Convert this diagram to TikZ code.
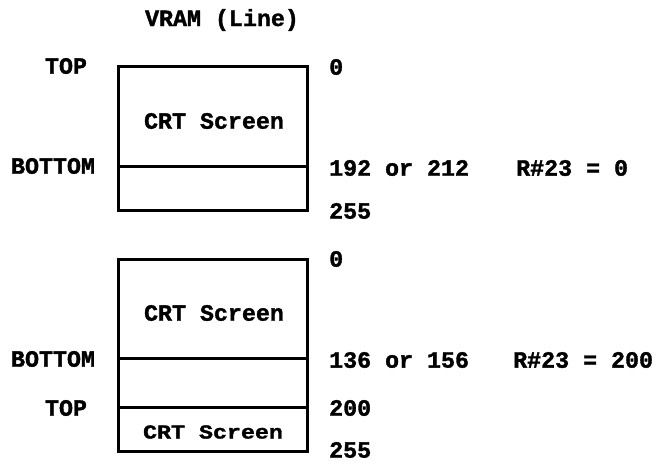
\documentclass[tikz,border=0pt]{standalone}
\usepackage{fontspec}
\setmonofont[FakeBold=1.5]{Liberation Mono}
\begin{document}
\begin{tikzpicture}[x=1pt,y=-1pt,
  lbl/.style={font=\fontsize{23.3}{25}\selectfont\ttfamily\bfseries, inner sep=0pt},
  lblL/.style={lbl, anchor=west},
  lblR/.style={lbl, anchor=east},
  boxline/.style={line width=3pt}]
\useasboundingbox (0,0) rectangle (658,464);
% top box
\draw[boxline] (118,66) rectangle (307,210);
\draw[boxline] (118,166) -- (307,166);
% bottom box
\draw[boxline] (118,259) rectangle (307,451);
\draw[boxline] (118,358) -- (307,358);
\draw[boxline] (118,407) -- (307,407);
% texts
\node[lbl] (title) at (222,20) {VRAM (Line)};
\node[lbl] (top1) at (66,66) {TOP};
\node[lbl] (bot1) at (53,166) {BOTTOM};
\node[lbl] (crt1) at (214,121) {CRT Screen};
\node[lblL] (z1) at (329,67) {0};
\node[lblL] (v192) at (329,168) {192 or 212};
\node[lblL] (r1) at (516,168) {R\#23 = 0};
\node[lblL] (e1) at (329,211) {255};
\node[lblL] (z2) at (329,259) {0};
\node[lbl] (crt2) at (214,313) {CRT Screen};
\node[lbl] (bot2) at (53,359) {BOTTOM};
\node[lblL] (v136) at (329,360) {136 or 156};
\node[lblL] (r2) at (513,360) {R\#23 = 200};
\node[lbl] (top2) at (66,408) {TOP};
\node[lblL] (t200) at (329,408) {200};
\node[lbl,yscale=0.85] (crt3) at (213,432) {CRT Screen};
\node[lblL] (e2) at (329,450) {255};
\end{tikzpicture}
\end{document}
